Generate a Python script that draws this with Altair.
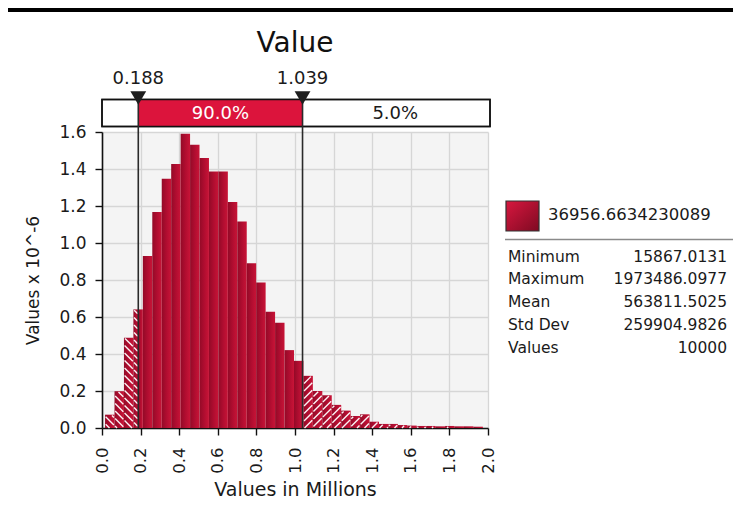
import math
import altair as alt
import numpy as np
import pandas as pd

# ---------------- data ----------------
value_min = 15867.0131
value_max = 1973486.0977
value_mean = 563811.5025
value_std = 259904.9826
value_count = 10000
legend_name = "36956.6634230089"

n_bins = 40
density = [0.072, 0.199, 0.488, 0.641, 0.930, 1.167, 1.347, 1.427, 1.591, 1.531,
           1.459, 1.387, 1.387, 1.221, 1.116, 0.890, 0.787, 0.628, 0.569, 0.421,
           0.363, 0.282, 0.200, 0.177, 0.125, 0.094, 0.065, 0.074, 0.034, 0.022,
           0.022, 0.016, 0.013, 0.011, 0.011, 0.009, 0.011, 0.009, 0.009, 0.007]

percentiles = [0.188, 1.039]
band_labels = ["5.0%", "90.0%", "5.0%"]

x_ticks = [0.0, 0.2, 0.4, 0.6, 0.8, 1.0, 1.2, 1.4, 1.6, 1.8, 2.0]
y_ticks = [0.0, 0.2, 0.4, 0.6, 0.8, 1.0, 1.2, 1.4, 1.6]

stat_labels = ["Minimum", "Maximum", "Mean", "Std Dev", "Values"]
stat_values = ["15867.0131", "1973486.0977", "563811.5025", "259904.9826", "10000"]

chart_title = "Value"
x_title = "Values in Millions"
y_title = "Values x 10^-6"

# ---------------- layout / style ----------------
W, H = 386, 296
FONT = "DejaVu Sans"
CRIMSON = "#dc143c"
TEXT = "#1a1a1a"

x_dom = [x_ticks[0], x_ticks[-1]]
y_dom = [y_ticks[0], y_ticks[-1]]
xs = alt.Scale(domain=x_dom, nice=False, zero=False)
ys = alt.Scale(domain=y_dom, nice=False, zero=False)
XAX = alt.Axis(values=x_ticks, format=".1f", labelAngle=270, title=x_title,
               tickSize=7, labelPadding=12, titlePadding=7, labelFontSize=16.5,
               titleFontSize=19, grid=True)
YAX = alt.Axis(values=y_ticks, format=".1f", title=y_title, tickSize=7,
               labelPadding=9, titlePadding=16, labelFontSize=17,
               titleFontSize=17, grid=True)

# ---------------- derived tables ----------------
edges = np.linspace(value_min / 1e6, value_max / 1e6, n_bins + 1)
lo, hi = percentiles
pieces = []
for i in range(n_bins):
    a, b, h = edges[i], edges[i + 1], density[i]
    cuts = [a] + [p for p in percentiles if a < p < b] + [b]
    for s, e in zip(cuts[:-1], cuts[1:]):
        mid = (s + e) / 2
        pieces.append(dict(x0=s, x1=e, h=h,
                           hatched=bool(mid < lo or mid > hi),
                           side="left" if mid < lo else "right"))
pieces = pd.DataFrame(pieces)

# hatch lines (white diagonals) for tails, computed in pixel space
sx = W / (x_dom[1] - x_dom[0])
sy = H / (y_dom[1] - y_dom[0])
spacing = 7.5
segs = []
for r in pieces[pieces.hatched].itertuples():
    X0, X1, Hp = r.x0 * sx + 0.6, r.x1 * sx - 0.6, r.h * sy - 0.8
    if Hp <= 1 or X1 <= X0:
        continue
    if r.side == "right":
        k0 = math.floor((X0 - Hp) / spacing) - 1
        k1 = math.ceil(X1 / spacing) + 1
        for k in range(k0, k1 + 1):
            c = k * spacing
            xa, xb = max(X0, c), min(X1, c + Hp)
            if xb - xa > 0.6:
                segs.append(dict(x=xa / sx, y=(xa - c) / sy, x2=xb / sx, y2=(xb - c) / sy))
    else:
        k0 = math.floor(X0 / spacing) - 1
        k1 = math.ceil((X1 + Hp) / spacing) + 1
        for k in range(k0, k1 + 1):
            c = k * spacing
            xa, xb = max(X0, c - Hp), min(X1, c)
            if xb - xa > 0.6:
                segs.append(dict(x=xa / sx, y=(c - xa) / sy, x2=xb / sx, y2=(c - xb) / sy))
segs = pd.DataFrame(segs)

band_edges = [x_dom[0]] + percentiles + [x_dom[1]]
band = pd.DataFrame(dict(start=band_edges[:-1], end=band_edges[1:], label=band_labels))
band["mid"] = (band.start + band.end) / 2
band["width"] = band.end - band.start
band["inner"] = [False, True, False]
band_text = band[band.width > 0.3]

pct = pd.DataFrame(dict(p=percentiles, label=[f"{p:.3f}" for p in percentiles]))

one = pd.DataFrame({"k": [0]})

bar_grad = alt.Gradient(gradient="linear",
                        stops=[alt.GradientStop(color="#930a27", offset=0),
                               alt.GradientStop(color="#b00d30", offset=0.5),
                               alt.GradientStop(color="#c81437", offset=1)],
                        x1=0, x2=1, y1=0, y2=0)
swatch_grad = alt.Gradient(gradient="linear",
                           stops=[alt.GradientStop(color="#d8173f", offset=0),
                                  alt.GradientStop(color="#7e0a22", offset=1)],
                           x1=0, x2=1, y1=0, y2=1)

# ---------------- layers ----------------
bars = alt.Chart(pieces).mark_rect(fill=bar_grad).encode(
    x=alt.X("x0:Q", scale=xs, axis=XAX),
    x2="x1:Q",
    y=alt.Y("h:Q", scale=ys, axis=YAX),
    y2=alt.datum(0),
)

hatch = alt.Chart(segs).mark_rule(color="white", strokeWidth=1.4, opacity=0.95).encode(
    x=alt.X("x:Q", scale=xs, axis=XAX), y=alt.Y("y:Q", scale=ys, axis=YAX),
    x2="x2:Q", y2="y2:Q")

box_white = alt.Chart(one).mark_rect(fill="white", stroke="#111", strokeWidth=1.5).encode(
    x=alt.value(0), x2=alt.value(W + 2), y=alt.value(-32.5), y2=alt.value(-5.5))

box_red = alt.Chart(band[band.inner]).mark_rect(fill=CRIMSON).encode(
    x=alt.X("start:Q", scale=xs, axis=XAX), x2="end:Q",
    y=alt.value(-32.5), y2=alt.value(-5.5))

box_outline = alt.Chart(one).mark_rect(fill="transparent", stroke="#111", strokeWidth=1.5).encode(
    x=alt.value(0), x2=alt.value(W + 2), y=alt.value(-32.5), y2=alt.value(-5.5))

box_text = alt.Chart(band_text).mark_text(font=FONT, fontSize=18, baseline="middle").encode(
    x=alt.X("mid:Q", scale=xs, axis=XAX), y=alt.value(-18.5), text="label:N",
    color=alt.condition("datum.inner", alt.value("white"), alt.value(TEXT)))

vlines = alt.Chart(pct).mark_rule(color="#2a2a2a", strokeWidth=1.6).encode(
    x=alt.X("p:Q", scale=xs, axis=XAX), y=alt.value(-40), y2=alt.value(H))

tri = alt.Chart(pct).mark_point(shape="triangle-down", filled=True, size=250,
                                color="#1e1e1e", opacity=1).encode(
    x=alt.X("p:Q", scale=xs, axis=XAX), y=alt.value(-34))

pct_text = alt.Chart(pct).mark_text(font=FONT, fontSize=18, color=TEXT,
                                    baseline="alphabetic").encode(
    x=alt.X("p:Q", scale=xs, axis=XAX), y=alt.value(-48), text="label:N")

title = alt.Chart(one).mark_text(font=FONT, fontSize=28, color="#111",
                                 baseline="alphabetic").encode(
    x=alt.value(W / 2), y=alt.value(-80), text=alt.value(chart_title))

topbar = alt.Chart(one).mark_rect(fill="black").encode(
    x=alt.value(-94), x2=alt.value(631), y=alt.value(-124), y2=alt.value(-120))

swatch = alt.Chart(one).mark_rect(fill=swatch_grad, stroke="#333", strokeWidth=1.2).encode(
    x=alt.value(404), x2=alt.value(437), y=alt.value(69), y2=alt.value(99))

legend_txt = alt.Chart(one).mark_text(font=FONT, fontSize=16.5, color=TEXT, align="left",
                                      baseline="middle").encode(
    x=alt.value(446), y=alt.value(83), text=alt.value(legend_name))

sep = alt.Chart(one).mark_rule(color="#8a8a8a", strokeWidth=1.5).encode(
    x=alt.value(403), x2=alt.value(631), y=alt.value(107.5))

stat_l = alt.Chart(one).mark_text(font=FONT, fontSize=15.5, color=TEXT, align="left",
                                  baseline="alphabetic", lineHeight=22.8).encode(
    x=alt.value(406), y=alt.value(129.5), text=alt.value(stat_labels))

stat_v = alt.Chart(one).mark_text(font=FONT, fontSize=15.5, color=TEXT, align="right",
                                  baseline="alphabetic", lineHeight=22.8).encode(
    x=alt.value(625), y=alt.value(129.5), text=alt.value(stat_values))

chart = alt.layer(
    bars, hatch, box_white, box_red, box_outline, vlines, tri, box_text, pct_text,
    title, topbar, swatch, legend_txt, sep, stat_l, stat_v
).properties(
    width=W, height=H,
    padding={"left": 94, "top": 124, "right": 245, "bottom": 76},
    autosize=alt.AutoSizeParams(type="none"),
).configure_view(
    fill="#f4f4f4", stroke=None
).configure_axis(
    labelFont=FONT, titleFont=FONT, labelColor=TEXT, titleColor=TEXT,
    titleFontWeight="normal", domainColor="#111", domainWidth=1.6,
    tickColor="#111", tickWidth=1.4, gridColor="#d6d6d6", gridWidth=1.3,
)

chart.save("out.html", embed_options={"renderer": "svg", "actions": False})
